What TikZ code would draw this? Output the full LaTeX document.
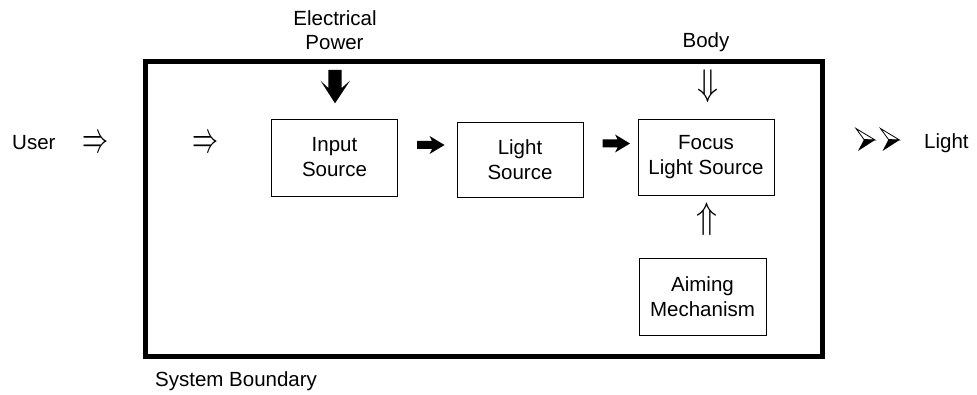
\documentclass[tikz,border=0pt]{standalone}
\usepackage{fontspec}
\setmainfont{Liberation Sans}
\usepackage{graphicx}
\newcommand{\dblright}{\resizebox*{26pt}{16pt}{$\Rightarrow$}}
\newcommand{\dbldown}{\resizebox*{21pt}{33pt}{$\Downarrow$}}
\newcommand{\dblup}{\resizebox*{21pt}{33pt}{$\Uparrow$}}
\begin{document}
\begin{tikzpicture}[x=1pt,y=-1pt,
  txt/.style={font=\fontsize{20.5}{24.5}\selectfont, inner sep=0pt},
  blk/.style={draw, line width=0.9pt, inner sep=0pt, align=center,
              font=\fontsize{20.5}{25}\selectfont},
  glyph/.style={inner sep=0pt},
  heavyr/.pic={\fill (0,-4) -- (15,-4) -- (12.5,-9) -- (27.5,0) -- (12.5,9) -- (15,4) -- (0,4) -- cycle;},
  heavyd/.pic={\fill (-6.7,0) -- (6.7,0) -- (6.7,18) -- (15,10.7) -- (0,33.3) -- (-14.5,10.7) -- (-6.7,18) -- cycle;},
  dart/.pic={\filldraw[fill=white, line width=0.8pt, line join=miter] (0,0) -- (19,11.5) -- (8,11) -- cycle;
             \fill (8,11) -- (19,11.5) -- (2,22.5) -- cycle;}
]
\useasboundingbox (0,0) rectangle (977,395);

% system boundary
\node[draw, line width=5pt, minimum width=677.5pt, minimum height=294.5pt, inner sep=0pt] (sys) at (483.75,209.25) {};

% blocks
\node[blk, minimum width=126pt, minimum height=77pt] (inp) at (334.5,157.5) {Input\\Source};
\node[blk, minimum width=126pt, minimum height=75pt] (lsrc) at (520,159.5) {Light\\Source};
\node[blk, minimum width=136pt, minimum height=76pt] (foc) at (706,157) {Focus\\Light Source};
\node[blk, minimum width=127pt, minimum height=77pt] (aim) at (702.5,296.5) {Aiming\\Mechanism};

% labels
\node[txt, anchor=base west] (user) at (12,150) {User};
\node[txt, anchor=base west] (lightout) at (924,149) {Light};
\node[txt, anchor=base west] (sysb) at (155,386.5) {System Boundary};
\node[txt, anchor=base] (body) at (706,48) {Body};
\node[txt, anchor=base] (elec) at (335,26) {Electrical};
\node[txt, anchor=base] (power) at (334.5,49.5) {Power};

% double-line arrows
\node[glyph] (ua) at (95,145) {\dblright};
\node[glyph] (ub) at (205,145) {\dblright};
\node[glyph] (bd) at (707.5,86.5) {\dbldown};
\node[glyph] (au) at (707,219.5) {\dblup};

% heavy arrows
\pic at (335,70) {heavyd};
\pic at (417,145) {heavyr};
\pic at (602.5,143.5) {heavyr};

% darts
\pic at (856,128.5) {dart};
\pic at (880.5,128.5) {dart};
\end{tikzpicture}
\end{document}
